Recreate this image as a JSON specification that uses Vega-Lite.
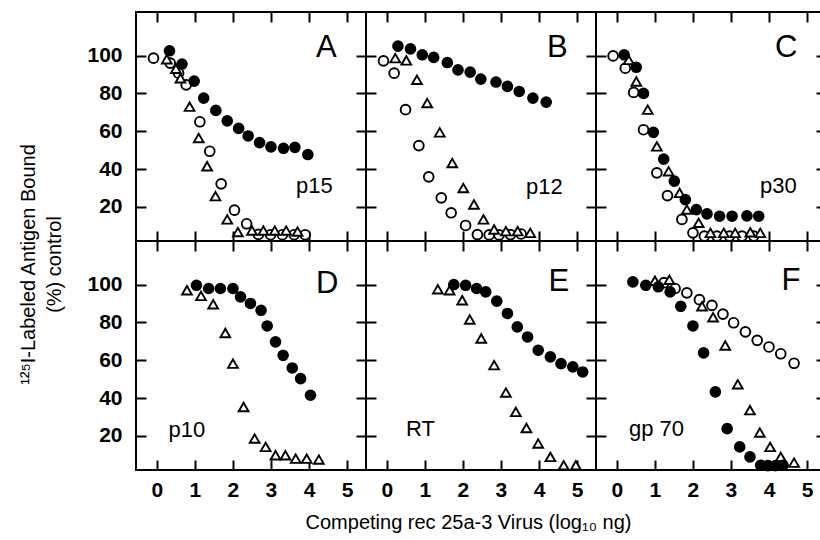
{
 "$schema": "https://vega.github.io/schema/vega-lite/v6.json",
 "background": "white",
 "padding": {"left": 17, "top": 10, "right": 0, "bottom": 0},
 "config": {
  "font": "Liberation Sans",
  "view": {"stroke": "black", "strokeWidth": 2},
  "axis": {"grid": false, "domain": false, "ticks": true, "tickColor": "black", "tickOpacity": 1, "tickWidth": 2, "tickSize": 10, "offset": -10, "zindex": 2, "labelColor": "black", "labelFontSize": 21, "labelFontWeight": "bold", "labelFont": "Liberation Sans", "titleColor": "black", "titleFontSize": 20, "titleFontWeight": "normal", "titleFont": "Liberation Sans"}
 },
 "datasets": {
  "ann": [
   {"panel": "A", "kind": "letter", "label": "A", "x": 4.46, "y": 104},
   {"panel": "A", "kind": "protein", "label": "p15", "x": 4.14, "y": 31},
   {"panel": "B", "kind": "letter", "label": "B", "x": 4.48, "y": 104},
   {"panel": "B", "kind": "protein", "label": "p12", "x": 4.14, "y": 30.6},
   {"panel": "C", "kind": "letter", "label": "C", "x": 4.45, "y": 104},
   {"panel": "C", "kind": "protein", "label": "p30", "x": 4.25, "y": 31},
   {"panel": "D", "kind": "letter", "label": "D", "x": 4.48, "y": 100.5},
   {"panel": "D", "kind": "protein", "label": "p10", "x": 0.79, "y": 23},
   {"panel": "E", "kind": "letter", "label": "E", "x": 4.52, "y": 101.4},
   {"panel": "E", "kind": "protein", "label": "RT", "x": 0.88, "y": 23.6},
   {"panel": "F", "kind": "letter", "label": "F", "x": 4.58, "y": 102},
   {"panel": "F", "kind": "protein", "label": "gp 70", "x": 1.04, "y": 23.6}
  ],
  "pts": [
   {"panel": "A", "series": "open", "x": -0.09, "y": 98.6},
   {"panel": "A", "series": "open", "x": 0.35, "y": 96},
   {"panel": "A", "series": "open", "x": 0.57, "y": 90.7},
   {"panel": "A", "series": "open", "x": 0.77, "y": 84.5},
   {"panel": "A", "series": "open", "x": 1.13, "y": 65},
   {"panel": "A", "series": "open", "x": 1.39, "y": 49.4},
   {"panel": "A", "series": "open", "x": 1.69, "y": 32.2},
   {"panel": "A", "series": "open", "x": 2.04, "y": 18.3},
   {"panel": "A", "series": "open", "x": 2.36, "y": 11.1},
   {"panel": "A", "series": "open", "x": 2.67, "y": 5.5},
   {"panel": "A", "series": "open", "x": 2.99, "y": 5.3},
   {"panel": "A", "series": "open", "x": 3.3, "y": 5.3},
   {"panel": "A", "series": "open", "x": 3.61, "y": 5.3},
   {"panel": "A", "series": "open", "x": 3.9, "y": 5.3},
   {"panel": "A", "series": "tri", "x": 0.26, "y": 98},
   {"panel": "A", "series": "tri", "x": 0.5, "y": 93},
   {"panel": "A", "series": "tri", "x": 0.62, "y": 88},
   {"panel": "A", "series": "tri", "x": 0.86, "y": 73},
   {"panel": "A", "series": "tri", "x": 1.1, "y": 56.4},
   {"panel": "A", "series": "tri", "x": 1.32, "y": 41.5},
   {"panel": "A", "series": "tri", "x": 1.54, "y": 25.7},
   {"panel": "A", "series": "tri", "x": 1.85, "y": 13.4},
   {"panel": "A", "series": "tri", "x": 2.13, "y": 6.7},
   {"panel": "A", "series": "tri", "x": 2.5, "y": 7.5},
   {"panel": "A", "series": "tri", "x": 2.8, "y": 7.5},
   {"panel": "A", "series": "tri", "x": 3.1, "y": 7.5},
   {"panel": "A", "series": "tri", "x": 3.4, "y": 7.5},
   {"panel": "A", "series": "tri", "x": 3.7, "y": 7},
   {"panel": "A", "series": "filled", "x": 0.33, "y": 102.5},
   {"panel": "A", "series": "filled", "x": 0.66, "y": 95.5},
   {"panel": "A", "series": "filled", "x": 0.98, "y": 86.5},
   {"panel": "A", "series": "filled", "x": 1.23, "y": 77.5},
   {"panel": "A", "series": "filled", "x": 1.55, "y": 71},
   {"panel": "A", "series": "filled", "x": 1.85, "y": 65.5},
   {"panel": "A", "series": "filled", "x": 2.15, "y": 61.5},
   {"panel": "A", "series": "filled", "x": 2.4, "y": 57.5},
   {"panel": "A", "series": "filled", "x": 2.7, "y": 54},
   {"panel": "A", "series": "filled", "x": 3.0, "y": 51.7},
   {"panel": "A", "series": "filled", "x": 3.33, "y": 51},
   {"panel": "A", "series": "filled", "x": 3.63, "y": 51.5},
   {"panel": "A", "series": "filled", "x": 3.97, "y": 47.7},

   {"panel": "B", "series": "open", "x": -0.09, "y": 97.2},
   {"panel": "B", "series": "open", "x": 0.19, "y": 90.7},
   {"panel": "B", "series": "open", "x": 0.49, "y": 71.4},
   {"panel": "B", "series": "open", "x": 0.84, "y": 52.4},
   {"panel": "B", "series": "open", "x": 1.1, "y": 35.9},
   {"panel": "B", "series": "open", "x": 1.43, "y": 24.8},
   {"panel": "B", "series": "open", "x": 1.69, "y": 16.9},
   {"panel": "B", "series": "open", "x": 2.07, "y": 10.2},
   {"panel": "B", "series": "open", "x": 2.38, "y": 5.4},
   {"panel": "B", "series": "open", "x": 2.69, "y": 5.2},
   {"panel": "B", "series": "open", "x": 2.95, "y": 5.2},
   {"panel": "B", "series": "open", "x": 3.25, "y": 5.4},
   {"panel": "B", "series": "open", "x": 3.53, "y": 5.7},
   {"panel": "B", "series": "tri", "x": 0.22, "y": 98.6},
   {"panel": "B", "series": "tri", "x": 0.51, "y": 97.4},
   {"panel": "B", "series": "tri", "x": 0.79, "y": 87.2},
   {"panel": "B", "series": "tri", "x": 1.06, "y": 74.9},
   {"panel": "B", "series": "tri", "x": 1.39, "y": 59.4},
   {"panel": "B", "series": "tri", "x": 1.72, "y": 43.2},
   {"panel": "B", "series": "tri", "x": 2.01, "y": 30},
   {"panel": "B", "series": "tri", "x": 2.29, "y": 21.3},
   {"panel": "B", "series": "tri", "x": 2.54, "y": 13.4},
   {"panel": "B", "series": "tri", "x": 2.82, "y": 8.1},
   {"panel": "B", "series": "tri", "x": 3.13, "y": 7.2},
   {"panel": "B", "series": "tri", "x": 3.44, "y": 7.2},
   {"panel": "B", "series": "tri", "x": 3.77, "y": 6.3},
   {"panel": "B", "series": "filled", "x": 0.29, "y": 105},
   {"panel": "B", "series": "filled", "x": 0.62, "y": 103.5},
   {"panel": "B", "series": "filled", "x": 0.93, "y": 100.4},
   {"panel": "B", "series": "filled", "x": 1.23, "y": 99},
   {"panel": "B", "series": "filled", "x": 1.59, "y": 96.3},
   {"panel": "B", "series": "filled", "x": 1.87, "y": 92.4},
   {"panel": "B", "series": "filled", "x": 2.19, "y": 91.2},
   {"panel": "B", "series": "filled", "x": 2.47, "y": 87.5},
   {"panel": "B", "series": "filled", "x": 2.87, "y": 86},
   {"panel": "B", "series": "filled", "x": 3.17, "y": 83.7},
   {"panel": "B", "series": "filled", "x": 3.48, "y": 81},
   {"panel": "B", "series": "filled", "x": 3.84, "y": 77.5},
   {"panel": "B", "series": "filled", "x": 4.19, "y": 75.4},

   {"panel": "C", "series": "open", "x": -0.1, "y": 99.8},
   {"panel": "C", "series": "open", "x": 0.22, "y": 93.3},
   {"panel": "C", "series": "open", "x": 0.44, "y": 80.5},
   {"panel": "C", "series": "open", "x": 0.7, "y": 60.8},
   {"panel": "C", "series": "open", "x": 1.05, "y": 38},
   {"panel": "C", "series": "open", "x": 1.33, "y": 26},
   {"panel": "C", "series": "open", "x": 1.71, "y": 13.4},
   {"panel": "C", "series": "open", "x": 2.0, "y": 6.3},
   {"panel": "C", "series": "open", "x": 2.3, "y": 4.6},
   {"panel": "C", "series": "open", "x": 2.63, "y": 4.6},
   {"panel": "C", "series": "open", "x": 2.96, "y": 4.6},
   {"panel": "C", "series": "open", "x": 3.29, "y": 4.6},
   {"panel": "C", "series": "open", "x": 3.6, "y": 4.6},
   {"panel": "C", "series": "tri", "x": 0.31, "y": 97.7},
   {"panel": "C", "series": "tri", "x": 0.51, "y": 86.3},
   {"panel": "C", "series": "tri", "x": 0.81, "y": 71.4},
   {"panel": "C", "series": "tri", "x": 1.05, "y": 52},
   {"panel": "C", "series": "tri", "x": 1.36, "y": 38.8},
   {"panel": "C", "series": "tri", "x": 1.65, "y": 27.4},
   {"panel": "C", "series": "tri", "x": 1.84, "y": 18.6},
   {"panel": "C", "series": "tri", "x": 2.15, "y": 11.6},
   {"panel": "C", "series": "tri", "x": 2.46, "y": 6.3},
   {"panel": "C", "series": "tri", "x": 2.81, "y": 6.3},
   {"panel": "C", "series": "tri", "x": 3.11, "y": 6.3},
   {"panel": "C", "series": "tri", "x": 3.51, "y": 6.6},
   {"panel": "C", "series": "tri", "x": 3.77, "y": 6.3},
   {"panel": "C", "series": "filled", "x": 0.19, "y": 100.4},
   {"panel": "C", "series": "filled", "x": 0.51, "y": 93.8},
   {"panel": "C", "series": "filled", "x": 0.7, "y": 80},
   {"panel": "C", "series": "filled", "x": 0.96, "y": 59.4},
   {"panel": "C", "series": "filled", "x": 1.23, "y": 45.3},
   {"panel": "C", "series": "filled", "x": 1.51, "y": 33.6},
   {"panel": "C", "series": "filled", "x": 1.8, "y": 23.9},
   {"panel": "C", "series": "filled", "x": 2.09, "y": 18.6},
   {"panel": "C", "series": "filled", "x": 2.37, "y": 16.3},
   {"panel": "C", "series": "filled", "x": 2.7, "y": 15.1},
   {"panel": "C", "series": "filled", "x": 3.03, "y": 15.1},
   {"panel": "C", "series": "filled", "x": 3.42, "y": 15.3},
   {"panel": "C", "series": "filled", "x": 3.73, "y": 15.1},

   {"panel": "D", "series": "tri", "x": 0.79, "y": 97},
   {"panel": "D", "series": "tri", "x": 1.16, "y": 94},
   {"panel": "D", "series": "tri", "x": 1.48, "y": 89.6},
   {"panel": "D", "series": "tri", "x": 1.8, "y": 74.4},
   {"panel": "D", "series": "tri", "x": 2.0, "y": 58.2},
   {"panel": "D", "series": "tri", "x": 2.28, "y": 35.3},
   {"panel": "D", "series": "tri", "x": 2.57, "y": 18.6},
   {"panel": "D", "series": "tri", "x": 2.86, "y": 14.2},
   {"panel": "D", "series": "tri", "x": 3.12, "y": 9.8},
   {"panel": "D", "series": "tri", "x": 3.38, "y": 9.8},
   {"panel": "D", "series": "tri", "x": 3.65, "y": 8},
   {"panel": "D", "series": "tri", "x": 3.94, "y": 8},
   {"panel": "D", "series": "tri", "x": 4.26, "y": 7.5},
   {"panel": "D", "series": "filled", "x": 1.04, "y": 99.6},
   {"panel": "D", "series": "filled", "x": 1.36, "y": 97.9},
   {"panel": "D", "series": "filled", "x": 1.67, "y": 97.9},
   {"panel": "D", "series": "filled", "x": 2.0, "y": 97.9},
   {"panel": "D", "series": "filled", "x": 2.2, "y": 93.5},
   {"panel": "D", "series": "filled", "x": 2.46, "y": 90},
   {"panel": "D", "series": "filled", "x": 2.74, "y": 86.4},
   {"panel": "D", "series": "filled", "x": 2.9, "y": 78.1},
   {"panel": "D", "series": "filled", "x": 3.12, "y": 69.7},
   {"panel": "D", "series": "filled", "x": 3.32, "y": 62.6},
   {"panel": "D", "series": "filled", "x": 3.56, "y": 55.9},
   {"panel": "D", "series": "filled", "x": 3.78, "y": 50.3},
   {"panel": "D", "series": "filled", "x": 4.04, "y": 41.5},

   {"panel": "E", "series": "tri", "x": 1.34, "y": 97.5},
   {"panel": "E", "series": "tri", "x": 1.65, "y": 97},
   {"panel": "E", "series": "tri", "x": 1.98, "y": 91.7},
   {"panel": "E", "series": "tri", "x": 2.18, "y": 81.5},
   {"panel": "E", "series": "tri", "x": 2.48, "y": 71.5},
   {"panel": "E", "series": "tri", "x": 2.82, "y": 57.4},
   {"panel": "E", "series": "tri", "x": 3.13, "y": 42.9},
   {"panel": "E", "series": "tri", "x": 3.39, "y": 32.7},
   {"panel": "E", "series": "tri", "x": 3.67, "y": 24.2},
   {"panel": "E", "series": "tri", "x": 3.98, "y": 16},
   {"panel": "E", "series": "tri", "x": 4.3, "y": 8.9},
   {"panel": "E", "series": "tri", "x": 4.65, "y": 4.5},
   {"panel": "E", "series": "tri", "x": 4.97, "y": 4.5},
   {"panel": "E", "series": "filled", "x": 1.76, "y": 100},
   {"panel": "E", "series": "filled", "x": 2.07, "y": 99.6},
   {"panel": "E", "series": "filled", "x": 2.36, "y": 97.9},
   {"panel": "E", "series": "filled", "x": 2.6, "y": 96.1},
   {"panel": "E", "series": "filled", "x": 2.89, "y": 91.2},
   {"panel": "E", "series": "filled", "x": 3.17, "y": 84.7},
   {"panel": "E", "series": "filled", "x": 3.43, "y": 77.6},
   {"panel": "E", "series": "filled", "x": 3.7, "y": 72.3},
   {"panel": "E", "series": "filled", "x": 3.98, "y": 65.3},
   {"panel": "E", "series": "filled", "x": 4.3, "y": 61.8},
   {"panel": "E", "series": "filled", "x": 4.58, "y": 58.2},
   {"panel": "E", "series": "filled", "x": 4.89, "y": 56.5},
   {"panel": "E", "series": "filled", "x": 5.15, "y": 53.8},

   {"panel": "F", "series": "open", "x": 1.24, "y": 101},
   {"panel": "F", "series": "open", "x": 1.53, "y": 97.9},
   {"panel": "F", "series": "open", "x": 1.84, "y": 95.6},
   {"panel": "F", "series": "open", "x": 2.17, "y": 92},
   {"panel": "F", "series": "open", "x": 2.5, "y": 89},
   {"panel": "F", "series": "open", "x": 2.79, "y": 84.4},
   {"panel": "F", "series": "open", "x": 3.07, "y": 79.8},
   {"panel": "F", "series": "open", "x": 3.38, "y": 75},
   {"panel": "F", "series": "open", "x": 3.69, "y": 70.5},
   {"panel": "F", "series": "open", "x": 4.0, "y": 67},
   {"panel": "F", "series": "open", "x": 4.31, "y": 63.4},
   {"panel": "F", "series": "open", "x": 4.66, "y": 58.4},
   {"panel": "F", "series": "tri", "x": 1.0, "y": 102},
   {"panel": "F", "series": "tri", "x": 1.38, "y": 102.5},
   {"panel": "F", "series": "tri", "x": 2.24, "y": 88.5},
   {"panel": "F", "series": "tri", "x": 2.53, "y": 82.7},
   {"panel": "F", "series": "tri", "x": 2.85, "y": 67.8},
   {"panel": "F", "series": "tri", "x": 3.18, "y": 47.3},
   {"panel": "F", "series": "tri", "x": 3.5, "y": 33.6},
   {"panel": "F", "series": "tri", "x": 3.76, "y": 21.8},
   {"panel": "F", "series": "tri", "x": 4.03, "y": 14.2},
   {"panel": "F", "series": "tri", "x": 4.31, "y": 8.9},
   {"panel": "F", "series": "tri", "x": 4.66, "y": 5.9},
   {"panel": "F", "series": "filled", "x": 0.42, "y": 101.4},
   {"panel": "F", "series": "filled", "x": 0.76, "y": 99.6},
   {"panel": "F", "series": "filled", "x": 1.09, "y": 98.8},
   {"panel": "F", "series": "filled", "x": 1.4, "y": 96.1},
   {"panel": "F", "series": "filled", "x": 1.68, "y": 88.5},
   {"panel": "F", "series": "filled", "x": 2.0, "y": 78.1},
   {"panel": "F", "series": "filled", "x": 2.28, "y": 63.9},
   {"panel": "F", "series": "filled", "x": 2.59, "y": 43.3},
   {"panel": "F", "series": "filled", "x": 2.9, "y": 23.9},
   {"panel": "F", "series": "filled", "x": 3.23, "y": 14.2},
   {"panel": "F", "series": "filled", "x": 3.5, "y": 8.9},
   {"panel": "F", "series": "filled", "x": 3.78, "y": 4.5},
   {"panel": "F", "series": "filled", "x": 3.97, "y": 4.3},
   {"panel": "F", "series": "filled", "x": 4.17, "y": 4.3},
   {"panel": "F", "series": "filled", "x": 4.37, "y": 4.5}
  ]
 },
 "columns": 3,
 "spacing": 0,
 "bounds": "flush",
 "concat": [
  {
   "width": 230, "height": 229,
   "layer": [
    {"data": {"name": "ann"}, "transform": [{"filter": "datum.panel === 'A' && datum.kind === 'letter'"}],
     "mark": {"type": "text", "fontSize": 31, "align": "center", "baseline": "middle", "color": "black"},
     "encoding": {
      "x": {"field": "x", "type": "quantitative", "scale": {"domain": [-0.55, 5.5], "nice": false, "zero": false}, "axis": {"orient": "top", "labels": false, "ticks": true, "tickColor": "black", "tickSize": 10, "tickWidth": 2, "values": [0, 1, 2, 3, 4, 5], "title": null}},
      "y": {"field": "y", "type": "quantitative", "scale": {"domain": [2, 123], "nice": false, "zero": false}, "axis": {"orient": "right", "labels": false, "ticks": true, "tickColor": "black", "tickSize": 10, "tickWidth": 2, "values": [20, 40, 60, 80, 100], "title": null}},
      "text": {"field": "label"}}},
    {"data": {"name": "ann"}, "transform": [{"filter": "datum.panel === 'A' && datum.kind === 'protein'"}],
     "mark": {"type": "text", "fontSize": 22, "align": "center", "baseline": "middle", "color": "black"},
     "encoding": {
      "x": {"field": "x", "type": "quantitative", "scale": {"domain": [-0.55, 5.5], "nice": false, "zero": false}, "axis": null},
      "y": {"field": "y", "type": "quantitative", "scale": {"domain": [2, 123], "nice": false, "zero": false}, "axis": null},
      "text": {"field": "label"}}},
    {"data": {"name": "pts"}, "transform": [{"filter": "datum.panel === 'A'"}],
     "mark": {"type": "point", "filled": true, "size": 95, "stroke": "black", "strokeWidth": 1.9, "opacity": 1},
     "encoding": {
      "x": {"field": "x", "type": "quantitative", "scale": {"domain": [-0.55, 5.5], "nice": false, "zero": false}, "axis": {"orient": "bottom", "labels": false, "ticks": true, "tickColor": "black", "tickSize": 10, "tickWidth": 2, "values": [0, 1, 2, 3, 4, 5], "title": null}},
      "y": {"field": "y", "type": "quantitative", "scale": {"domain": [2, 123], "nice": false, "zero": false}, "axis": {"orient": "left", "labels": true, "ticks": true, "tickColor": "black", "tickSize": 10, "tickWidth": 2, "labelPadding": 14, "values": [20, 40, 60, 80, 100], "title": ["¹²⁵I-Labeled Antigen Bound", "(%) control"], "titleY": 252, "titlePadding": 22, "titleLineHeight": 26}},
      "shape": {"field": "series", "type": "nominal", "scale": {"domain": ["open", "tri", "filled"], "range": ["circle", "triangle-up", "circle"]}, "legend": null},
      "fill": {"field": "series", "type": "nominal", "scale": {"domain": ["open", "tri", "filled"], "range": ["white", "white", "black"]}, "legend": null}}}
   ],
   "resolve": {"axis": {"x": "independent", "y": "independent"}}
  },
  {
   "width": 230, "height": 229,
   "layer": [
    {"data": {"name": "ann"}, "transform": [{"filter": "datum.panel === 'B' && datum.kind === 'letter'"}],
     "mark": {"type": "text", "fontSize": 31, "align": "center", "baseline": "middle", "color": "black"},
     "encoding": {
      "x": {"field": "x", "type": "quantitative", "scale": {"domain": [-0.55, 5.5], "nice": false, "zero": false}, "axis": {"orient": "top", "labels": false, "ticks": true, "tickColor": "black", "tickSize": 10, "tickWidth": 2, "values": [0, 1, 2, 3, 4, 5], "title": null}},
      "y": {"field": "y", "type": "quantitative", "scale": {"domain": [2, 123], "nice": false, "zero": false}, "axis": {"orient": "right", "labels": false, "ticks": true, "tickColor": "black", "tickSize": 10, "tickWidth": 2, "values": [20, 40, 60, 80, 100], "title": null}},
      "text": {"field": "label"}}},
    {"data": {"name": "ann"}, "transform": [{"filter": "datum.panel === 'B' && datum.kind === 'protein'"}],
     "mark": {"type": "text", "fontSize": 22, "align": "center", "baseline": "middle", "color": "black"},
     "encoding": {
      "x": {"field": "x", "type": "quantitative", "scale": {"domain": [-0.55, 5.5], "nice": false, "zero": false}, "axis": null},
      "y": {"field": "y", "type": "quantitative", "scale": {"domain": [2, 123], "nice": false, "zero": false}, "axis": null},
      "text": {"field": "label"}}},
    {"data": {"name": "pts"}, "transform": [{"filter": "datum.panel === 'B'"}],
     "mark": {"type": "point", "filled": true, "size": 95, "stroke": "black", "strokeWidth": 1.9, "opacity": 1},
     "encoding": {
      "x": {"field": "x", "type": "quantitative", "scale": {"domain": [-0.55, 5.5], "nice": false, "zero": false}, "axis": {"orient": "bottom", "labels": false, "ticks": true, "tickColor": "black", "tickSize": 10, "tickWidth": 2, "values": [0, 1, 2, 3, 4, 5], "title": null}},
      "y": {"field": "y", "type": "quantitative", "scale": {"domain": [2, 123], "nice": false, "zero": false}, "axis": {"orient": "left", "labels": false, "ticks": true, "tickColor": "black", "tickSize": 10, "tickWidth": 2, "values": [20, 40, 60, 80, 100], "title": null}},
      "shape": {"field": "series", "type": "nominal", "scale": {"domain": ["open", "tri", "filled"], "range": ["circle", "triangle-up", "circle"]}, "legend": null},
      "fill": {"field": "series", "type": "nominal", "scale": {"domain": ["open", "tri", "filled"], "range": ["white", "white", "black"]}, "legend": null}}}
   ],
   "resolve": {"axis": {"x": "independent", "y": "independent"}}
  },
  {
   "width": 230, "height": 229,
   "layer": [
    {"data": {"name": "ann"}, "transform": [{"filter": "datum.panel === 'C' && datum.kind === 'letter'"}],
     "mark": {"type": "text", "fontSize": 31, "align": "center", "baseline": "middle", "color": "black"},
     "encoding": {
      "x": {"field": "x", "type": "quantitative", "scale": {"domain": [-0.55, 5.5], "nice": false, "zero": false}, "axis": {"orient": "top", "labels": false, "ticks": true, "tickColor": "black", "tickSize": 10, "tickWidth": 2, "values": [0, 1, 2, 3, 4, 5], "title": null}},
      "y": {"field": "y", "type": "quantitative", "scale": {"domain": [2, 123], "nice": false, "zero": false}, "axis": {"orient": "right", "labels": false, "ticks": true, "tickColor": "black", "tickSize": 10, "tickWidth": 2, "values": [20, 40, 60, 80, 100], "title": null}},
      "text": {"field": "label"}}},
    {"data": {"name": "ann"}, "transform": [{"filter": "datum.panel === 'C' && datum.kind === 'protein'"}],
     "mark": {"type": "text", "fontSize": 22, "align": "center", "baseline": "middle", "color": "black"},
     "encoding": {
      "x": {"field": "x", "type": "quantitative", "scale": {"domain": [-0.55, 5.5], "nice": false, "zero": false}, "axis": null},
      "y": {"field": "y", "type": "quantitative", "scale": {"domain": [2, 123], "nice": false, "zero": false}, "axis": null},
      "text": {"field": "label"}}},
    {"data": {"name": "pts"}, "transform": [{"filter": "datum.panel === 'C'"}],
     "mark": {"type": "point", "filled": true, "size": 95, "stroke": "black", "strokeWidth": 1.9, "opacity": 1},
     "encoding": {
      "x": {"field": "x", "type": "quantitative", "scale": {"domain": [-0.55, 5.5], "nice": false, "zero": false}, "axis": {"orient": "bottom", "labels": false, "ticks": true, "tickColor": "black", "tickSize": 10, "tickWidth": 2, "values": [0, 1, 2, 3, 4, 5], "title": null}},
      "y": {"field": "y", "type": "quantitative", "scale": {"domain": [2, 123], "nice": false, "zero": false}, "axis": {"orient": "left", "labels": false, "ticks": true, "tickColor": "black", "tickSize": 10, "tickWidth": 2, "values": [20, 40, 60, 80, 100], "title": null}},
      "shape": {"field": "series", "type": "nominal", "scale": {"domain": ["open", "tri", "filled"], "range": ["circle", "triangle-up", "circle"]}, "legend": null},
      "fill": {"field": "series", "type": "nominal", "scale": {"domain": ["open", "tri", "filled"], "range": ["white", "white", "black"]}, "legend": null}}}
   ],
   "resolve": {"axis": {"x": "independent", "y": "independent"}}
  },
  {
   "width": 230, "height": 229,
   "layer": [
    {"data": {"name": "ann"}, "transform": [{"filter": "datum.panel === 'D' && datum.kind === 'letter'"}],
     "mark": {"type": "text", "fontSize": 31, "align": "center", "baseline": "middle", "color": "black"},
     "encoding": {
      "x": {"field": "x", "type": "quantitative", "scale": {"domain": [-0.55, 5.5], "nice": false, "zero": false}, "axis": {"orient": "top", "labels": false, "ticks": true, "tickColor": "black", "tickSize": 10, "tickWidth": 2, "values": [0, 1, 2, 3, 4, 5], "title": null}},
      "y": {"field": "y", "type": "quantitative", "scale": {"domain": [2, 123], "nice": false, "zero": false}, "axis": {"orient": "right", "labels": false, "ticks": true, "tickColor": "black", "tickSize": 10, "tickWidth": 2, "values": [20, 40, 60, 80, 100], "title": null}},
      "text": {"field": "label"}}},
    {"data": {"name": "ann"}, "transform": [{"filter": "datum.panel === 'D' && datum.kind === 'protein'"}],
     "mark": {"type": "text", "fontSize": 22, "align": "center", "baseline": "middle", "color": "black"},
     "encoding": {
      "x": {"field": "x", "type": "quantitative", "scale": {"domain": [-0.55, 5.5], "nice": false, "zero": false}, "axis": null},
      "y": {"field": "y", "type": "quantitative", "scale": {"domain": [2, 123], "nice": false, "zero": false}, "axis": null},
      "text": {"field": "label"}}},
    {"data": {"name": "pts"}, "transform": [{"filter": "datum.panel === 'D'"}],
     "mark": {"type": "point", "filled": true, "size": 95, "stroke": "black", "strokeWidth": 1.9, "opacity": 1},
     "encoding": {
      "x": {"field": "x", "type": "quantitative", "scale": {"domain": [-0.55, 5.5], "nice": false, "zero": false}, "axis": {"orient": "bottom", "labels": true, "ticks": true, "tickColor": "black", "tickSize": 10, "tickWidth": 2, "labelPadding": 9, "values": [0, 1, 2, 3, 4, 5], "title": null}},
      "y": {"field": "y", "type": "quantitative", "scale": {"domain": [2, 123], "nice": false, "zero": false}, "axis": {"orient": "left", "labels": true, "ticks": true, "tickColor": "black", "tickSize": 10, "tickWidth": 2, "labelPadding": 14, "values": [20, 40, 60, 80, 100], "title": null}},
      "shape": {"field": "series", "type": "nominal", "scale": {"domain": ["open", "tri", "filled"], "range": ["circle", "triangle-up", "circle"]}, "legend": null},
      "fill": {"field": "series", "type": "nominal", "scale": {"domain": ["open", "tri", "filled"], "range": ["white", "white", "black"]}, "legend": null}}}
   ],
   "resolve": {"axis": {"x": "independent", "y": "independent"}}
  },
  {
   "width": 230, "height": 229,
   "layer": [
    {"data": {"name": "ann"}, "transform": [{"filter": "datum.panel === 'E' && datum.kind === 'letter'"}],
     "mark": {"type": "text", "fontSize": 31, "align": "center", "baseline": "middle", "color": "black"},
     "encoding": {
      "x": {"field": "x", "type": "quantitative", "scale": {"domain": [-0.55, 5.5], "nice": false, "zero": false}, "axis": {"orient": "top", "labels": false, "ticks": true, "tickColor": "black", "tickSize": 10, "tickWidth": 2, "values": [0, 1, 2, 3, 4, 5], "title": null}},
      "y": {"field": "y", "type": "quantitative", "scale": {"domain": [2, 123], "nice": false, "zero": false}, "axis": {"orient": "right", "labels": false, "ticks": true, "tickColor": "black", "tickSize": 10, "tickWidth": 2, "values": [20, 40, 60, 80, 100], "title": null}},
      "text": {"field": "label"}}},
    {"data": {"name": "ann"}, "transform": [{"filter": "datum.panel === 'E' && datum.kind === 'protein'"}],
     "mark": {"type": "text", "fontSize": 22, "align": "center", "baseline": "middle", "color": "black"},
     "encoding": {
      "x": {"field": "x", "type": "quantitative", "scale": {"domain": [-0.55, 5.5], "nice": false, "zero": false}, "axis": null},
      "y": {"field": "y", "type": "quantitative", "scale": {"domain": [2, 123], "nice": false, "zero": false}, "axis": null},
      "text": {"field": "label"}}},
    {"data": {"name": "pts"}, "transform": [{"filter": "datum.panel === 'E'"}],
     "mark": {"type": "point", "filled": true, "size": 95, "stroke": "black", "strokeWidth": 1.9, "opacity": 1},
     "encoding": {
      "x": {"field": "x", "type": "quantitative", "scale": {"domain": [-0.55, 5.5], "nice": false, "zero": false}, "axis": {"orient": "bottom", "labels": true, "ticks": true, "tickColor": "black", "tickSize": 10, "tickWidth": 2, "labelPadding": 9, "values": [0, 1, 2, 3, 4, 5], "title": "Competing rec 25a-3 Virus (log₁₀ ng)", "titlePadding": 12, "titleX": 102}},
      "y": {"field": "y", "type": "quantitative", "scale": {"domain": [2, 123], "nice": false, "zero": false}, "axis": {"orient": "left", "labels": false, "ticks": true, "tickColor": "black", "tickSize": 10, "tickWidth": 2, "values": [20, 40, 60, 80, 100], "title": null}},
      "shape": {"field": "series", "type": "nominal", "scale": {"domain": ["open", "tri", "filled"], "range": ["circle", "triangle-up", "circle"]}, "legend": null},
      "fill": {"field": "series", "type": "nominal", "scale": {"domain": ["open", "tri", "filled"], "range": ["white", "white", "black"]}, "legend": null}}}
   ],
   "resolve": {"axis": {"x": "independent", "y": "independent"}}
  },
  {
   "width": 230, "height": 229,
   "layer": [
    {"data": {"name": "ann"}, "transform": [{"filter": "datum.panel === 'F' && datum.kind === 'letter'"}],
     "mark": {"type": "text", "fontSize": 31, "align": "center", "baseline": "middle", "color": "black"},
     "encoding": {
      "x": {"field": "x", "type": "quantitative", "scale": {"domain": [-0.55, 5.5], "nice": false, "zero": false}, "axis": {"orient": "top", "labels": false, "ticks": true, "tickColor": "black", "tickSize": 10, "tickWidth": 2, "values": [0, 1, 2, 3, 4, 5], "title": null}},
      "y": {"field": "y", "type": "quantitative", "scale": {"domain": [2, 123], "nice": false, "zero": false}, "axis": {"orient": "right", "labels": false, "ticks": true, "tickColor": "black", "tickSize": 10, "tickWidth": 2, "values": [20, 40, 60, 80, 100], "title": null}},
      "text": {"field": "label"}}},
    {"data": {"name": "ann"}, "transform": [{"filter": "datum.panel === 'F' && datum.kind === 'protein'"}],
     "mark": {"type": "text", "fontSize": 22, "align": "center", "baseline": "middle", "color": "black"},
     "encoding": {
      "x": {"field": "x", "type": "quantitative", "scale": {"domain": [-0.55, 5.5], "nice": false, "zero": false}, "axis": null},
      "y": {"field": "y", "type": "quantitative", "scale": {"domain": [2, 123], "nice": false, "zero": false}, "axis": null},
      "text": {"field": "label"}}},
    {"data": {"name": "pts"}, "transform": [{"filter": "datum.panel === 'F'"}],
     "mark": {"type": "point", "filled": true, "size": 95, "stroke": "black", "strokeWidth": 1.9, "opacity": 1},
     "encoding": {
      "x": {"field": "x", "type": "quantitative", "scale": {"domain": [-0.55, 5.5], "nice": false, "zero": false}, "axis": {"orient": "bottom", "labels": true, "ticks": true, "tickColor": "black", "tickSize": 10, "tickWidth": 2, "labelPadding": 9, "values": [0, 1, 2, 3, 4, 5], "title": null}},
      "y": {"field": "y", "type": "quantitative", "scale": {"domain": [2, 123], "nice": false, "zero": false}, "axis": {"orient": "left", "labels": false, "ticks": true, "tickColor": "black", "tickSize": 10, "tickWidth": 2, "values": [20, 40, 60, 80, 100], "title": null}},
      "shape": {"field": "series", "type": "nominal", "scale": {"domain": ["open", "tri", "filled"], "range": ["circle", "triangle-up", "circle"]}, "legend": null},
      "fill": {"field": "series", "type": "nominal", "scale": {"domain": ["open", "tri", "filled"], "range": ["white", "white", "black"]}, "legend": null}}}
   ],
   "resolve": {"axis": {"x": "independent", "y": "independent"}}
  }
 ]
}
